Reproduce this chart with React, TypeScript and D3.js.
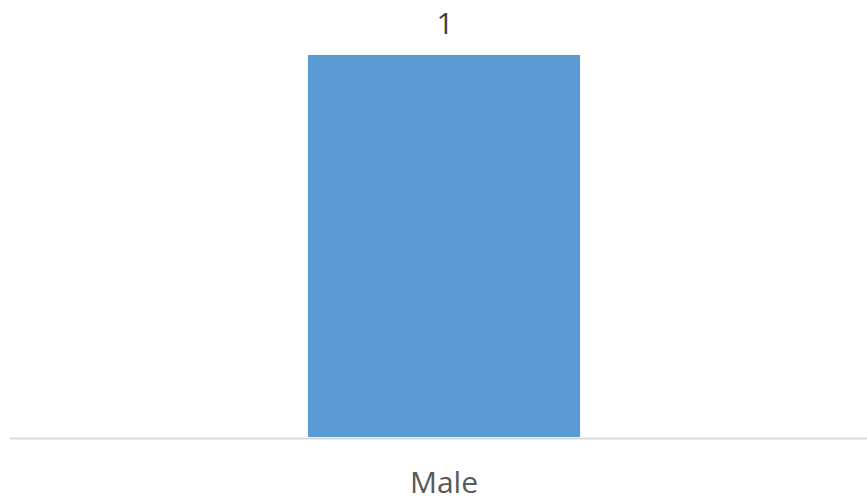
import React, { useEffect, useRef } from "react";
import * as d3 from "d3";

const categories = ["Male"];
const values = [1];

const App = () => {
  const ref = useRef<SVGSVGElement>(null);

  useEffect(() => {
    const width = 867;
    const height = 502;
    const margin = { top: 55, right: -11, bottom: 65, left: 10 };
    const font = "'Open Sans', 'Liberation Sans', sans-serif";

    const svg = d3.select(ref.current);
    svg.selectAll("*").remove();
    svg.attr("width", width).attr("height", height);

    const x = d3
      .scaleBand()
      .domain(categories)
      .range([margin.left, width - margin.right])
      .paddingInner(0)
      .paddingOuter(1.095);

    const y = d3
      .scaleLinear()
      .domain([0, d3.max(values) || 1])
      .range([height - margin.bottom, margin.top]);

    svg
      .append("g")
      .selectAll("rect")
      .data(values)
      .join("rect")
      .attr("x", (d, i) => x(categories[i]) || 0)
      .attr("y", (d) => y(d))
      .attr("width", x.bandwidth())
      .attr("height", (d) => y(0) - y(d))
      .attr("fill", "#5b9bd5");

    // baseline
    svg
      .append("line")
      .attr("x1", margin.left)
      .attr("x2", width - margin.right)
      .attr("y1", y(0) + 1.5)
      .attr("y2", y(0) + 1.5)
      .attr("stroke", "#d9d9d9")
      .attr("stroke-width", 2);

    // data labels
    svg
      .append("g")
      .selectAll("text")
      .data(values)
      .join("text")
      .attr("x", (d, i) => (x(categories[i]) || 0) + x.bandwidth() / 2 + 1)
      .attr("y", (d) => y(d) - 21)
      .attr("text-anchor", "middle")
      .style("font-family", font)
      .style("font-size", "30px")
      .attr("fill", "#404040")
      .text((d) => d);

    // category labels
    svg
      .append("g")
      .selectAll("text")
      .data(categories)
      .join("text")
      .attr("x", (d) => (x(d) || 0) + x.bandwidth() / 2)
      .attr("y", height - 9)
      .attr("text-anchor", "middle")
      .style("font-family", font)
      .style("font-size", "30px")
      .attr("fill", "#595959")
      .text((d) => d);
  }, []);

  return (
    <div style={{ position: "absolute", left: 0, top: 0 }}>
      <svg ref={ref} style={{ display: "block" }}></svg>
    </div>
  );
};

export default App;
